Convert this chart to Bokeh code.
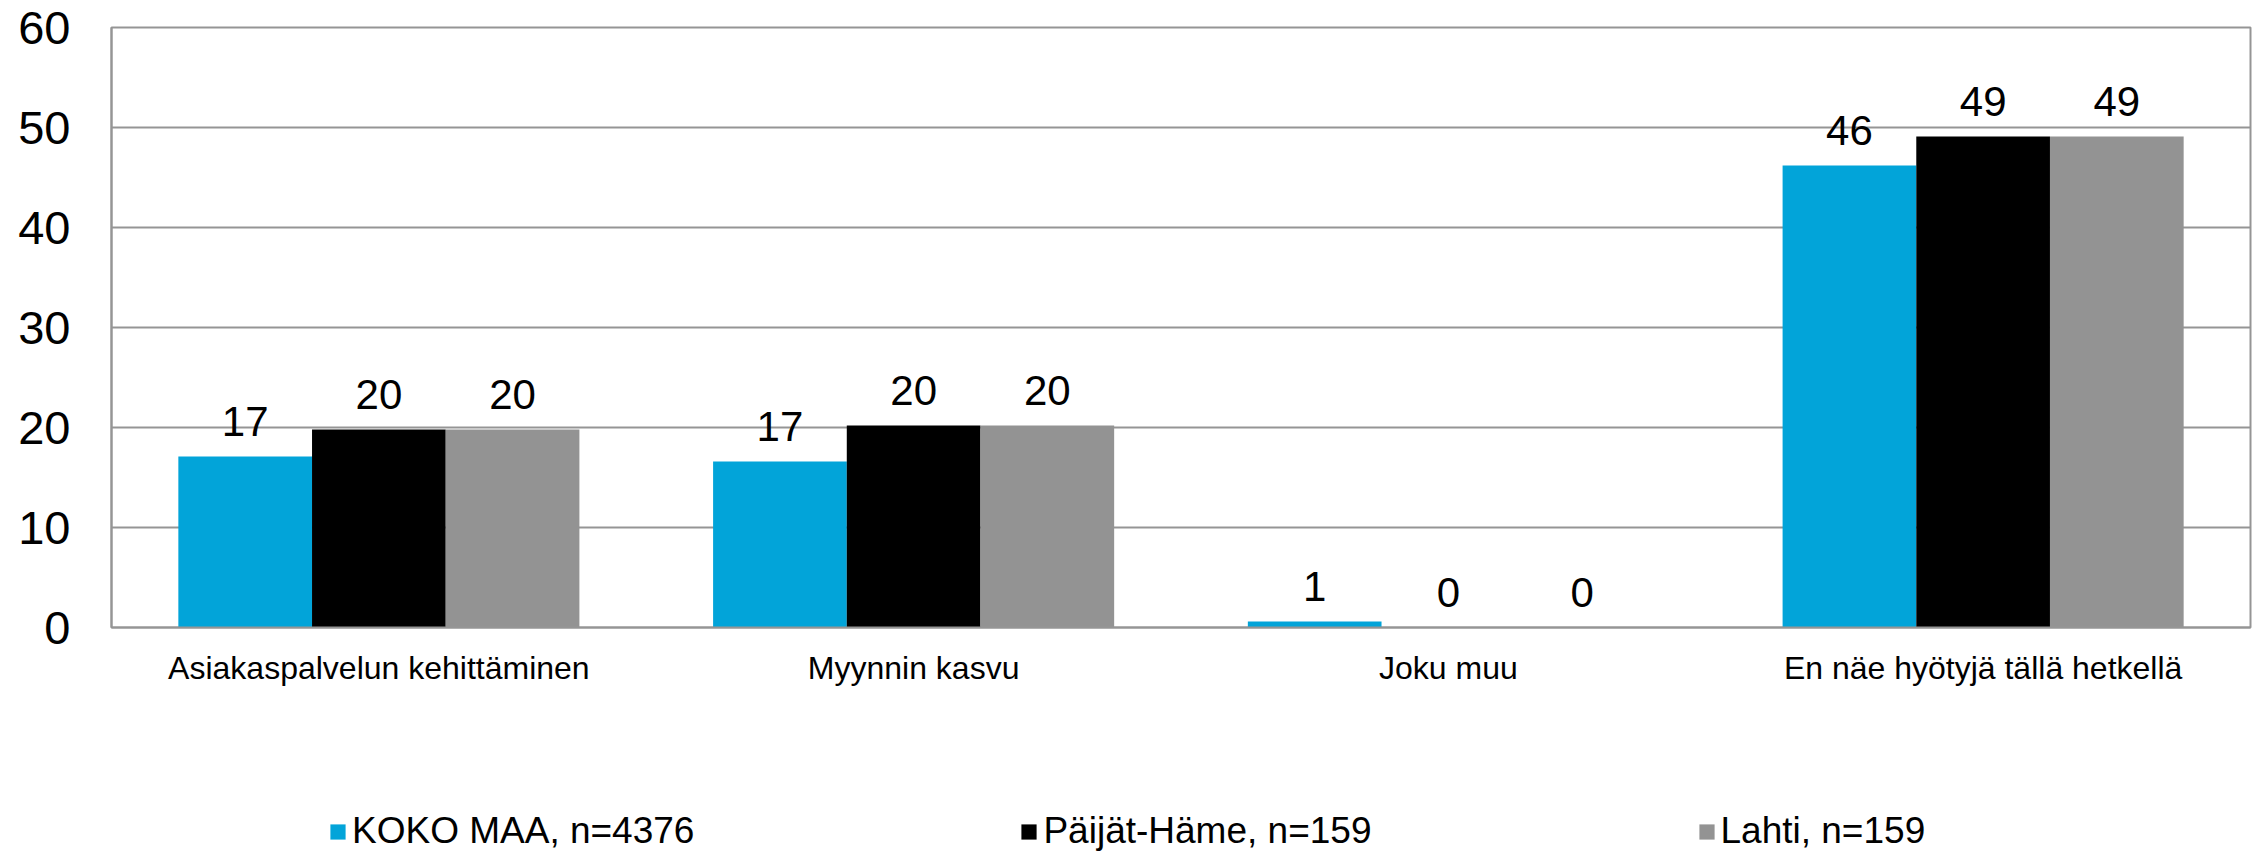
from bokeh.plotting import figure
from bokeh.layouts import column
from bokeh.models import FactorRange, Range1d, FixedTicker, Legend, LegendItem, ColumnDataSource
from bokeh.transform import dodge
from bokeh.core.properties import value
from bokeh.embed import file_html
from bokeh.resources import INLINE

categories = ["Asiakaspalvelun kehittäminen", "Myynnin kasvu", "Joku muu", "En näe hyötyjä tällä hetkellä"]
koko_maa = [17.1, 16.6, 0.6, 46.2]
paijat_hame = [19.8, 20.2, 0.0, 49.1]
lahti = [19.8, 20.2, 0.0, 49.1]
series_names = ["KOKO MAA, n=4376", "Päijät-Häme, n=159", "Lahti, n=159"]
series_colors = ["#02A4D9", "#000000", "#939393"]
y_ticks = [0, 10, 20, 30, 40, 50, 60]

FONT_NAME = "Liberation Sans"
FONT = value(FONT_NAME)
GRID = "#959595"

series = [koko_maa, paijat_hame, lahti]
keys = ["s0", "s1", "s2"]
data = {"cat": categories}
for k, vals in zip(keys, series):
    data[k] = vals
    data[k + "_lbl"] = [str(int(round(v))) for v in vals]
src = ColumnDataSource(data)

p = figure(x_range=FactorRange(*categories, range_padding=0), y_range=Range1d(0, 60),
           width=2260, height=800, output_backend="svg", toolbar_location=None,
           min_border_left=111, min_border_right=10, min_border_top=27, min_border_bottom=173)

p.outline_line_color = GRID
p.outline_line_width = 2
p.xgrid.grid_line_color = None
p.ygrid.grid_line_color = GRID
p.ygrid.grid_line_width = 2
p.ygrid.ticker = FixedTicker(ticks=y_ticks)

p.yaxis.ticker = FixedTicker(ticks=y_ticks)
p.yaxis.axis_line_color = GRID
p.yaxis.axis_line_width = 2
p.yaxis.major_tick_line_color = None
p.yaxis.minor_tick_line_color = None
p.yaxis.major_tick_out = 0
p.yaxis.major_label_standoff = 41
p.yaxis.major_label_text_font = FONT_NAME
p.yaxis.major_label_text_font_size = "47px"
p.yaxis.major_label_text_color = "#000000"

p.xaxis.axis_line_color = GRID
p.xaxis.axis_line_width = 2
p.xaxis.major_tick_line_color = None
p.xaxis.minor_tick_line_color = None
p.xaxis.major_tick_out = 0
p.xaxis.major_label_standoff = 22
p.xaxis.major_label_text_font = FONT_NAME
p.xaxis.major_label_text_font_size = "32px"
p.xaxis.major_label_text_color = "#000000"

offsets = [-0.25, 0.0, 0.25]
for k, off, color in zip(keys, offsets, series_colors):
    p.vbar(x=dodge("cat", off, range=p.x_range), top=k, width=0.25, source=src,
           fill_color=color, line_color=None)
    p.text(x=dodge("cat", off, range=p.x_range), y=k, text=k + "_lbl", source=src,
           text_align="center", text_baseline="middle", y_offset=-35,
           text_font=FONT, text_font_size="42px", text_color="#000000")

# legend strip below the chart (its frame is aligned with the chart's frame)
pl = figure(width=2260, height=52, output_backend="svg", toolbar_location=None,
            x_range=FactorRange(*categories, range_padding=0), y_range=Range1d(100, 101),
            min_border_left=0, min_border_right=0, min_border_top=0, min_border_bottom=0,
            x_axis_type=None, y_axis_type=None)
pl.outline_line_color = None
pl.grid.grid_line_color = None
items = []
for k, off, name, color in zip(keys, offsets, series_names, series_colors):
    r = pl.vbar(x=dodge("cat", off, range=pl.x_range), top=k, width=0.25, source=src,
                fill_color=color, line_color=None)
    items.append(LegendItem(label=name, renderers=[r]))

legend = Legend(items=items, orientation="horizontal", location=(217, 0),
                glyph_width=19, glyph_height=19, label_standoff=5, spacing=325,
                padding=0, margin=0, border_line_color=None, background_fill_alpha=0,
                label_text_font=FONT_NAME, label_text_font_size="37px", label_text_color="#000000")
pl.add_layout(legend)

layout = column(p, pl, spacing=0)
open("out.html", "w").write(file_html(layout, INLINE))
